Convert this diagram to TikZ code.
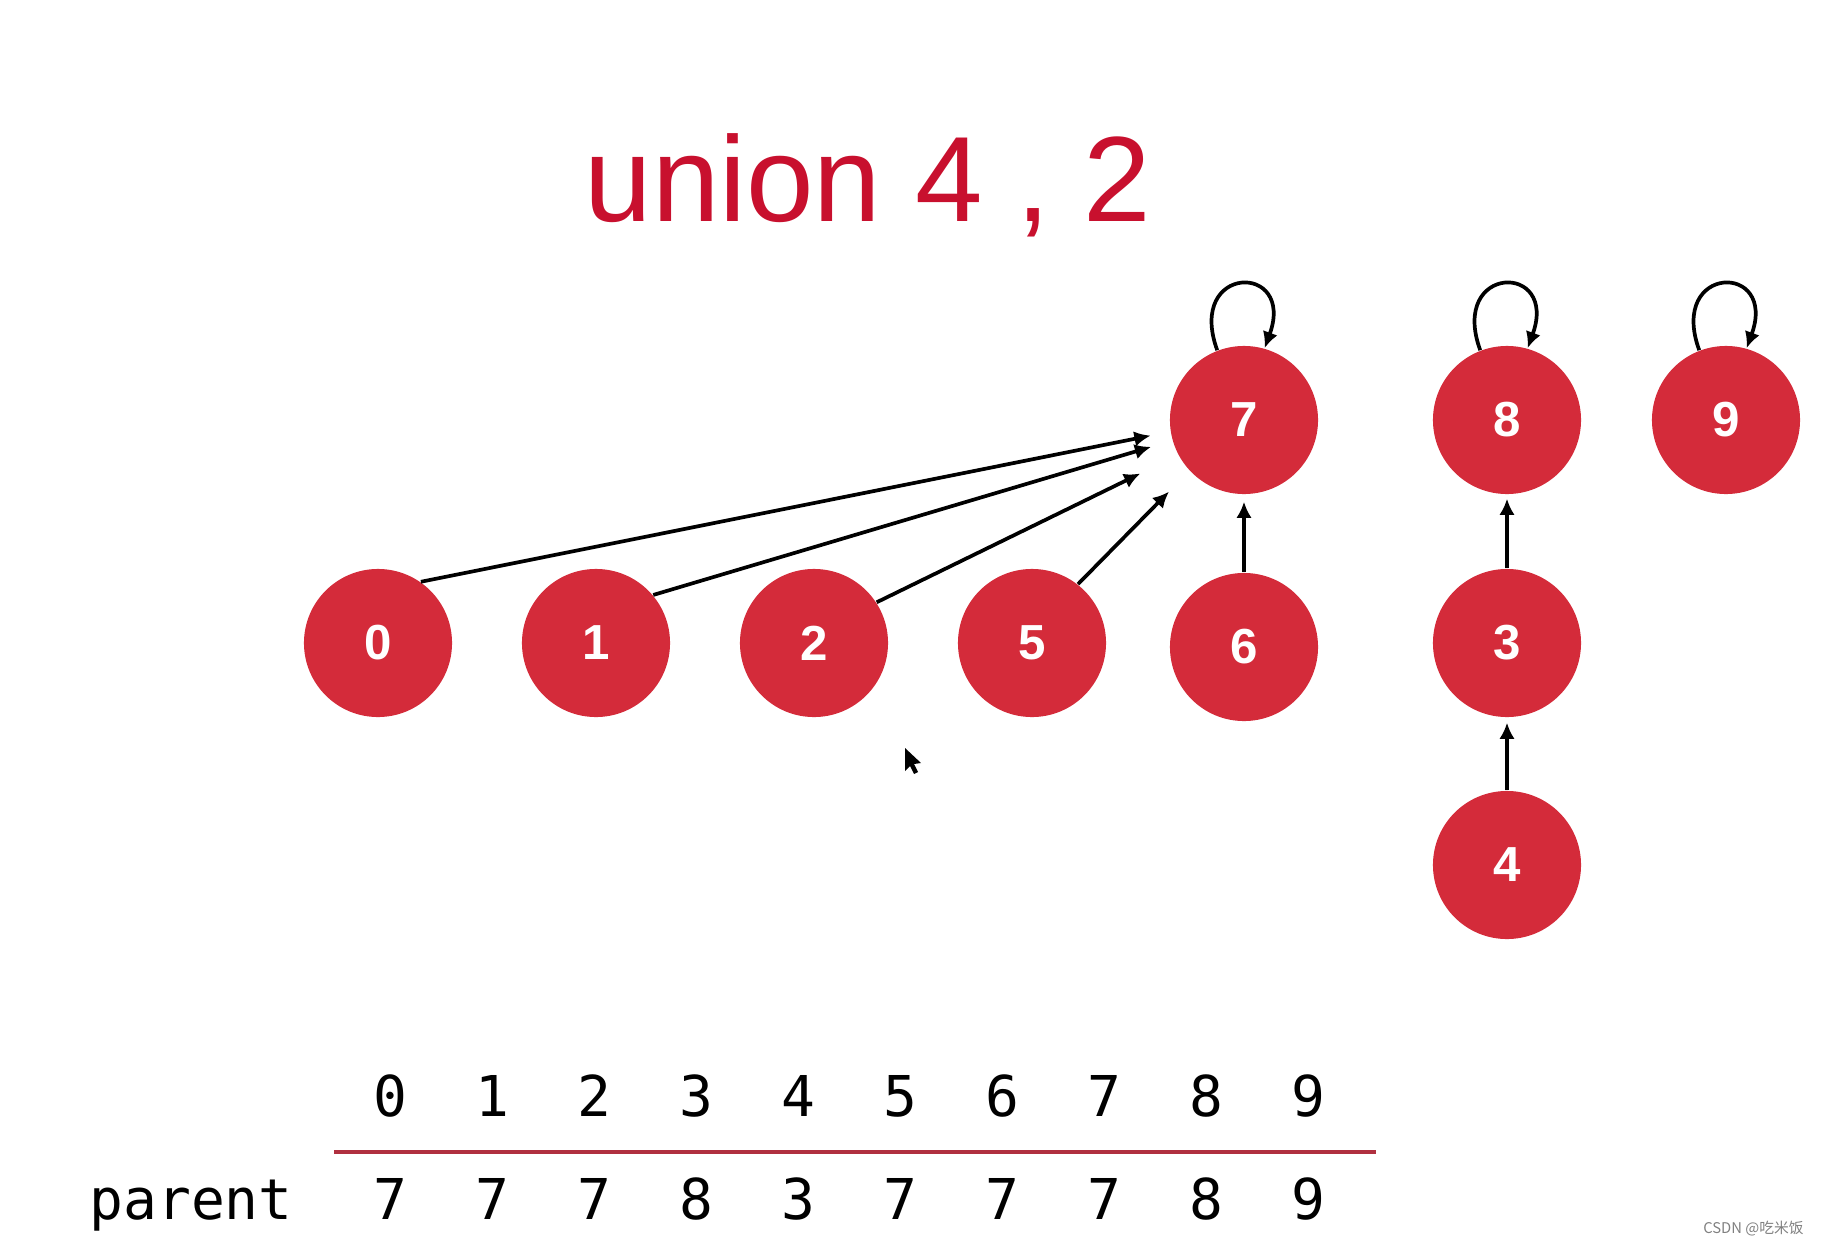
\documentclass[tikz,border=0pt]{standalone}
\usepackage{fontspec}
\setmainfont{Liberation Sans}
\setmonofont{DejaVu Sans Mono}
\newfontfamily\cjkfont{Noto Sans CJK SC}
\usetikzlibrary{arrows.meta}
\definecolor{ballred}{RGB}{212,43,58}
\definecolor{titlered}{RGB}{200,16,46}
\definecolor{rulered}{RGB}{176,48,64}

\begin{document}
\begin{tikzpicture}[>={Latex[length=4.6pt,width=4.4pt]},x=0.01cm,y=-0.01cm,
  ball/.style={circle,fill=ballred,text=white,minimum size=1.48cm,inner sep=0pt,font=\bfseries\fontsize{14}{16}\selectfont},
  link/.style={->,line width=1.05pt},
  cell/.style={anchor=base,font=\ttfamily\fontsize{16}{19}\selectfont}]
\useasboundingbox (0,0) rectangle (1826,1245);
\node[anchor=base,text=titlered,font=\fontsize{34.5}{40}\selectfont] (title) at (868,221) {union 4 , 2};
\foreach \k/\x/\y in {0/378/643,1/596/643,2/814/643,5/1032/643,6/1244/647,7/1244/420,8/1507/420,9/1726/420,3/1507/643,4/1507/865}
  \node[ball] (n\k) at (\x,\y) {\k};
\foreach \k in {7,8,9}
  \draw[link] (n\k.111) .. controls +(110:0.92cm) and +(70:0.92cm) .. (n\k.74);
\foreach \s/\a/\b/\g in {0/55/189/0.2cm,1/40/196/0.22cm,2/33/208/0.42cm,5/52/223/0.29cm}
  \draw[link,shorten >=\g] (n\s.\a) -- (n7.\b);
\draw[link,shorten >=0.07cm] (n6) -- (n7);
\draw[link,shorten >=0.04cm] (n3) -- (n8);
\draw[link,shorten >=0.05cm] (n4) -- (n3);
\fill (905,748) -- (905,771) -- (910,766) -- (914,774) -- (918,772) -- (914,764) -- (921,763) -- cycle;
\node[cell,anchor=base west] (parent) at (77,1219) {parent};
\foreach \i/\p in {0/7,1/7,2/7,3/8,4/3,5/7,6/7,7/7,8/8,9/9} {
  \node[cell] (idx\i) at (390+102.1*\i,1116) {\i};
  \node[cell] (par\i) at (390+102.1*\i,1219) {\p};
}
\draw[rulered,line width=1pt] (334,1152) -- (1376,1152);
\node[anchor=base east,text=gray,font=\cjkfont\fontsize{4.2}{5}\selectfont] (mark) at (1816,1233) {CSDN @吃米饭};
\end{tikzpicture}
\end{document}
